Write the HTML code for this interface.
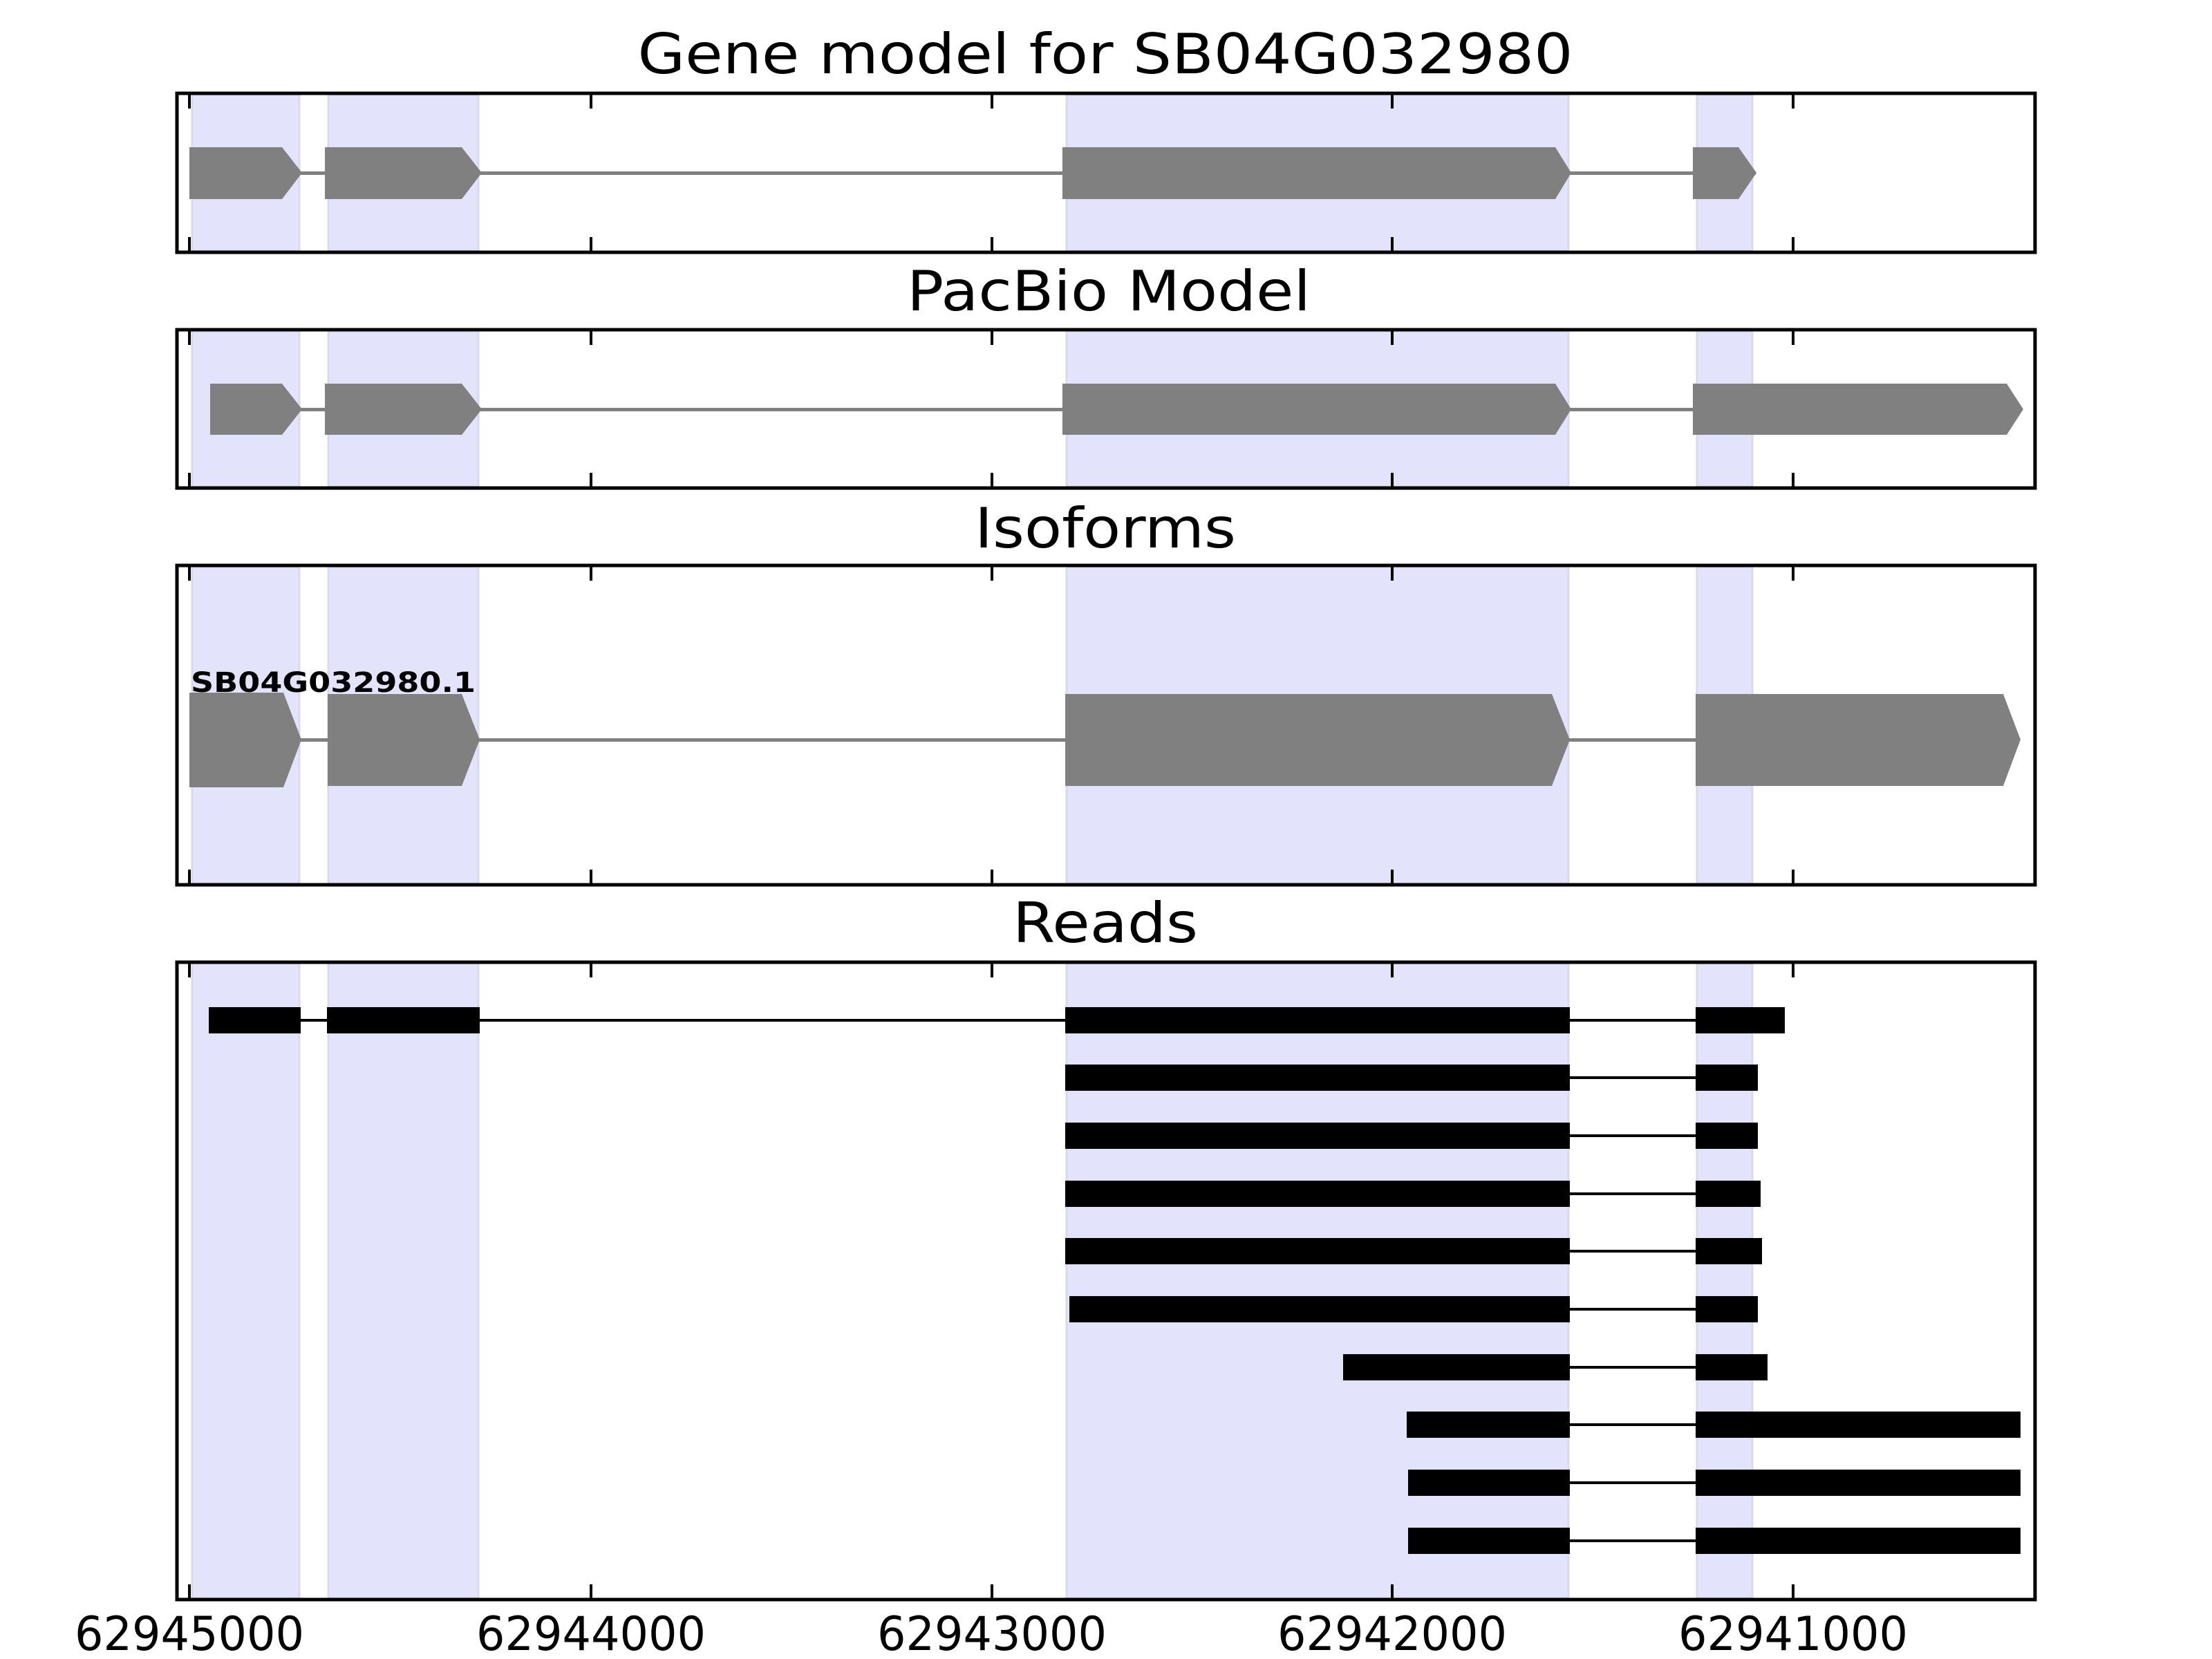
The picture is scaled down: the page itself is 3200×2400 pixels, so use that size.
<!DOCTYPE html>
<html><head><meta charset="utf-8"><style>html,body{margin:0;padding:0;background:#fff}svg{display:block}</style></head>
<body>
<svg width="3200" height="2400" viewBox="0 0 3200 2400" xmlns="http://www.w3.org/2000/svg" font-family="'DejaVu Sans','Liberation Sans',sans-serif">
<!-- titles -->
<text x="1599" y="106" font-size="80" text-anchor="middle" textLength="1353" lengthAdjust="spacingAndGlyphs">Gene model for SB04G032980</text>
<text x="1604" y="449" font-size="80" text-anchor="middle" textLength="584" lengthAdjust="spacingAndGlyphs">PacBio Model</text>
<text x="1599" y="792" font-size="80" text-anchor="middle" textLength="378" lengthAdjust="spacingAndGlyphs">Isoforms</text>
<text x="1599" y="1363" font-size="80" text-anchor="middle" textLength="268" lengthAdjust="spacingAndGlyphs">Reads</text>

<!-- shading for each panel -->
<g fill="#e3e3fc" stroke="#d8d8ee" stroke-width="3">
<rect x="278" y="137" width="155" height="226"/><rect x="475" y="137" width="217" height="226"/><rect x="1543" y="137" width="726" height="226"/><rect x="2455" y="137" width="80" height="226"/>
<rect x="278" y="479" width="155" height="225"/><rect x="475" y="479" width="217" height="225"/><rect x="1543" y="479" width="726" height="225"/><rect x="2455" y="479" width="80" height="225"/>
<rect x="278" y="820" width="155" height="458"/><rect x="475" y="820" width="217" height="458"/><rect x="1543" y="820" width="726" height="458"/><rect x="2455" y="820" width="80" height="458"/>
<rect x="278" y="1394" width="155" height="918"/><rect x="475" y="1394" width="217" height="918"/><rect x="1543" y="1394" width="726" height="918"/><rect x="2455" y="1394" width="80" height="918"/>
</g>

<!-- panel 1 gene model -->
<g fill="#808080">
<rect x="300" y="248" width="2240" height="5"/>
<polygon points="274,213 408,213 437,250 408,288 274,288"/>
<polygon points="470,213 668,213 697,250 668,288 470,288"/>
<polygon points="1537,213 2250,213 2273,250 2250,288 1537,288"/>
<polygon points="2449,213 2515,213 2541,250 2515,288 2449,288"/>
</g>
<!-- panel 2 pacbio -->
<g fill="#808080">
<rect x="310" y="590" width="2600" height="5"/>
<polygon points="304,555 408,555 437,592 408,629 304,629"/>
<polygon points="470,555 668,555 697,592 668,629 470,629"/>
<polygon points="1537,555 2250,555 2273,592 2250,629 1537,629"/>
<polygon points="2449,555 2903,555 2927,592 2903,629 2449,629"/>
</g>
<!-- panel 3 isoforms -->
<g fill="#808080">
<rect x="300" y="1068" width="2600" height="5"/>
<polygon points="274,1002 410,1002 436,1070 410,1139 274,1139"/>
<polygon points="474,1004 668,1004 694,1070 668,1137 474,1137"/>
<polygon points="1541,1004 2245,1004 2271,1070 2245,1137 1541,1137"/>
<polygon points="2453,1004 2898,1004 2923,1070 2898,1137 2453,1137"/>
</g>
<text x="276" y="1001" font-size="40" font-weight="bold" textLength="412" lengthAdjust="spacingAndGlyphs">SB04G032980.1</text>

<!-- panel 4 reads -->
<g fill="#000">
<rect x="302" y="1474" width="2280" height="4"/>
<rect x="302" y="1457" width="133" height="38"/><rect x="473" y="1457" width="221" height="38"/><rect x="1541" y="1457" width="730" height="38"/><rect x="2453" y="1457" width="129" height="38"/>
<rect x="1541" y="1557" width="1000" height="4"/><rect x="1541" y="1540" width="730" height="38"/><rect x="2453" y="1540" width="90" height="38"/>
<rect x="1541" y="1641" width="1000" height="4"/><rect x="1541" y="1624" width="730" height="38"/><rect x="2453" y="1624" width="90" height="38"/>
<rect x="1541" y="1725" width="1000" height="4"/><rect x="1541" y="1708" width="730" height="38"/><rect x="2453" y="1708" width="94" height="38"/>
<rect x="1541" y="1808" width="1000" height="4"/><rect x="1541" y="1791" width="730" height="38"/><rect x="2453" y="1791" width="96" height="38"/>
<rect x="1547" y="1892" width="990" height="4"/><rect x="1547" y="1875" width="724" height="38"/><rect x="2453" y="1875" width="90" height="38"/>
<rect x="1943" y="1976" width="600" height="4"/><rect x="1943" y="1959" width="328" height="38"/><rect x="2453" y="1959" width="104" height="38"/>
<rect x="2035" y="2059" width="800" height="4"/><rect x="2035" y="2042" width="236" height="38"/><rect x="2453" y="2042" width="470" height="38"/>
<rect x="2037" y="2143" width="800" height="4"/><rect x="2037" y="2126" width="234" height="38"/><rect x="2453" y="2126" width="470" height="38"/>
<rect x="2037" y="2227" width="800" height="4"/><rect x="2037" y="2210" width="234" height="38"/><rect x="2453" y="2210" width="470" height="38"/>
</g>

<!-- frames -->
<g fill="none" stroke="#000" stroke-width="5">
<rect x="256" y="135" width="2688" height="230"/>
<rect x="256" y="477" width="2688" height="229"/>
<rect x="256" y="818" width="2688" height="462"/>
<rect x="256" y="1392" width="2688" height="922"/>
</g>
<!-- ticks -->
<g stroke="#000" stroke-width="4">
<path d="M274 137v20M855 137v20M1435 137v20M2014 137v20M2594 137v20 M274 363v-20M855 363v-20M1435 363v-20M2014 363v-20M2594 363v-20"/>
<path d="M274 479v20M855 479v20M1435 479v20M2014 479v20M2594 479v20 M274 704v-20M855 704v-20M1435 704v-20M2014 704v-20M2594 704v-20"/>
<path d="M274 820v20M855 820v20M1435 820v20M2014 820v20M2594 820v20 M274 1278v-20M855 1278v-20M1435 1278v-20M2014 1278v-20M2594 1278v-20"/>
<path d="M274 1394v20M855 1394v20M1435 1394v20M2014 1394v20M2594 1394v20 M274 2312v-20M855 2312v-20M1435 2312v-20M2014 2312v-20M2594 2312v-20"/>
</g>
<!-- tick labels -->
<g font-size="68" text-anchor="middle">
<text x="274" y="2387" textLength="332" lengthAdjust="spacingAndGlyphs">62945000</text>
<text x="855" y="2387" textLength="332" lengthAdjust="spacingAndGlyphs">62944000</text>
<text x="1435" y="2387" textLength="332" lengthAdjust="spacingAndGlyphs">62943000</text>
<text x="2014" y="2387" textLength="332" lengthAdjust="spacingAndGlyphs">62942000</text>
<text x="2594" y="2387" textLength="332" lengthAdjust="spacingAndGlyphs">62941000</text>
</g>
</svg>
</body></html>
